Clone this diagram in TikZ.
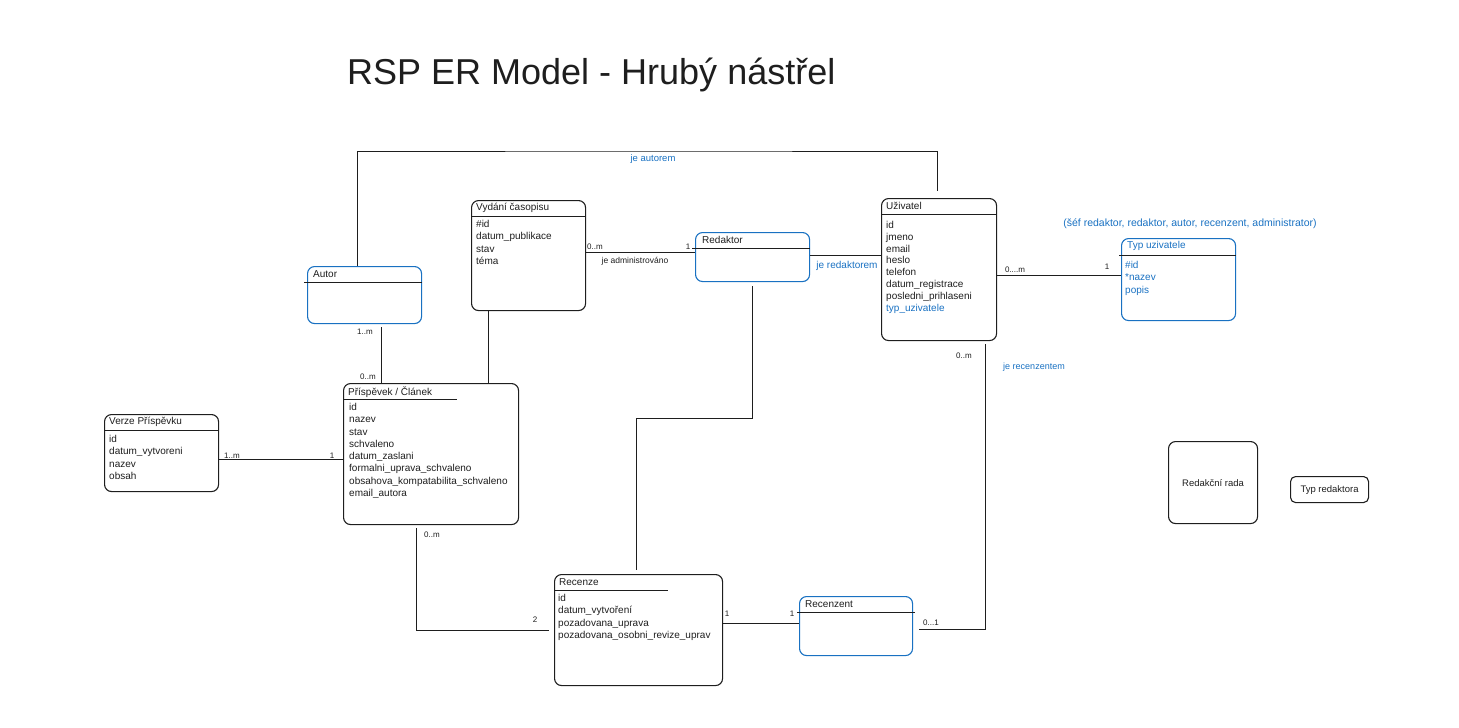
\documentclass[tikz,border=0pt]{standalone}
\usepackage{fontspec}
\setmainfont{Liberation Sans}
\definecolor{ink}{HTML}{1E1E1E}
\definecolor{exblue}{HTML}{1971C2}

\begin{document}
\begin{tikzpicture}[x=1pt, y=-1pt,
    every node/.style={font=\fontsize{10}{12.3}\selectfont, text=ink, inner sep=0pt},
    entity/.style={draw=ink, line width=1.1pt, rounded corners=7pt, anchor=north west},
    bentity/.style={entity, draw=exblue},
    hline/.style={draw=ink, line width=1pt},
    attrs/.style={anchor=north west, align=left},
    etitle/.style={anchor=west},
    conn/.style={draw=ink, line width=0.9pt},
    card/.style={font=\fontsize{8}{9}\selectfont},
    rel/.style={font=\fontsize{9.5}{11}\selectfont, text=exblue}]

    \path[use as bounding box] (0,0) rectangle (1459,728);

    % Title
    \node[font=\fontsize{36}{40}\selectfont, anchor=west] (heading) at (347,75)
          {RSP ER Model - Hrubý nástřel};

    % Autor
    \node[bentity, minimum width=114, minimum height=57] (autor) at (307,266) {};
    \draw[hline] ([xshift=-3pt,yshift=-16pt]autor.north west) -- ([yshift=-16pt]autor.north east);
    \node[etitle] (autor-t) at ([xshift=6pt,yshift=-8pt]autor.north west) {Autor};

    % Vydani casopisu
    \node[entity, minimum width=114, minimum height=110] (vydani) at (471,200) {};
    \draw[hline] ([yshift=-16pt]vydani.north west) -- ([yshift=-16pt]vydani.north east);
    \node[etitle] (vydani-t) at ([xshift=5pt,yshift=-8pt]vydani.north west) {Vydání časopisu};
    \node[attrs] (vydani-a) at (476,220) {\#id\\datum\_publikace\\stav\\téma};

    % Redaktor
    \node[bentity, minimum width=114, minimum height=49] (redaktor) at (695,232) {};
    \draw[hline] ([xshift=-3pt,yshift=-16pt]redaktor.north west) -- ([yshift=-16pt]redaktor.north east);
    \node[etitle] (redaktor-t) at ([xshift=7pt,yshift=-8pt]redaktor.north west) {Redaktor};

    % Uzivatel
    \node[entity, minimum width=115, minimum height=142] (uziv) at (881,198) {};
    \draw[hline] ([yshift=-16pt]uziv.north west) -- ([yshift=-16pt]uziv.north east);
    \node[etitle] (uziv-t) at ([xshift=5pt,yshift=-8pt]uziv.north west) {Uživatel};
    \node[attrs, font=\fontsize{10}{11.8}\selectfont] (uziv-a) at (886,221)
          {id\\jmeno\\email\\heslo\\telefon\\datum\_registrace\\posledni\_prihlaseni\\
           \textcolor{exblue}{typ\_uzivatele}};

    % Typ uzivatele
    \node[bentity, minimum width=114, minimum height=82] (typ) at (1121,238) {};
    \draw[hline] ([xshift=-2pt,yshift=-17pt]typ.north west) -- ([yshift=-17pt]typ.north east);
    \node[etitle, text=exblue] (typ-t) at ([xshift=6pt,yshift=-8pt]typ.north west) {Typ uzivatele};
    \node[attrs, text=exblue] (typ-a) at (1125,261) {\#id\\*nazev\\popis};
    \node[rel, font=\fontsize{10.5}{12}\selectfont] (typ-note) at (1190,224)
          {(šéf redaktor, redaktor, autor, recenzent, administrator)};

    % Prispevek / Clanek
    \node[entity, minimum width=175, minimum height=141] (prisp) at (343,383) {};
    \draw[hline] ([yshift=-16pt]prisp.north west) -- ++(114,0);
    \node[etitle] (prisp-t) at ([xshift=5pt,yshift=-9pt]prisp.north west) {Příspěvek / Článek};
    \node[attrs] (prisp-a) at (349,403)
          {id\\nazev\\stav\\schvaleno\\datum\_zaslani\\formalni\_uprava\_schvaleno\\
           obsahova\_kompatabilita\_schvaleno\\email\_autora};

    % Verze prispevku
    \node[entity, minimum width=114, minimum height=77] (verze) at (104,414) {};
    \draw[hline] ([yshift=-16pt]verze.north west) -- ([yshift=-16pt]verze.north east);
    \node[etitle] (verze-t) at ([xshift=5pt,yshift=-8pt]verze.north west) {Verze Příspěvku};
    \node[attrs] (verze-a) at (109,435) {id\\datum\_vytvoreni\\nazev\\obsah};

    % Recenze
    \node[entity, minimum width=168, minimum height=111] (recenze) at (554,574) {};
    \draw[hline] ([yshift=-16pt]recenze.north west) -- ++(114,0);
    \node[etitle] (recenze-t) at ([xshift=5pt,yshift=-8pt]recenze.north west) {Recenze};
    \node[attrs] (recenze-a) at (558,594)
          {id\\datum\_vytvoření\\pozadovana\_uprava\\pozadovana\_osobni\_revize\_uprav};

    % Recenzent
    \node[bentity, minimum width=113, minimum height=59] (recenzent) at (799,596) {};
    \draw[hline] ([xshift=-2pt,yshift=-16pt]recenzent.north west) -- ([xshift=2pt,yshift=-16pt]recenzent.north east);
    \node[etitle] (recenzent-t) at ([xshift=6pt,yshift=-8pt]recenzent.north west) {Recenzent};

    % Redakcni rada, Typ redaktora
    \node[entity, minimum width=89, minimum height=82, font=\fontsize{9.5}{11}\selectfont] (rada)
          at (1168,441) {Redakční rada};
    \node[entity, rounded corners=5pt, minimum width=78, minimum height=26,
          font=\fontsize{9.5}{11}\selectfont] (typred) at (1290,476) {Typ redaktora};

    % je autorem
    \draw[conn] ([xshift=-7pt]autor.north) |- (650,151) -| ([xshift=-1.5pt,yshift=7pt]uziv.north);
    \node[rel] (autorem-l) at (653,159) {je autorem};

    % Autor -- Prispevek
    \draw[conn] ([xshift=17pt,yshift=-3pt]autor.south) coordinate (a1) -- (a1 |- prisp.north);
    \node[card] (a1-c1) at (365,332) {1..m};
    \node[card] (a1-c2) at (368,377) {0..m};

    % Vydani -- Prispevek
    \draw[conn] ([xshift=-40pt]vydani.south) coordinate (v1) -- (v1 |- prisp.north);

    % je administrovano
    \draw[conn] ([yshift=3pt]vydani.east) coordinate (v2) -- (v2 -| redaktor.west);
    \node[card] (v2-c1) at (595,247) {0..m};
    \node[card] (v2-c2) at (688,247) {1};
    \node[card, font=\fontsize{8.5}{10}\selectfont] (v2-l) at (635,261) {je administrováno};

    % je redaktorem
    \draw[conn] ([yshift=2pt]redaktor.east) coordinate (r1) -- (r1 -| uziv.west);
    \node[rel, font=\fontsize{10}{11}\selectfont] (r1-l) at (847,266) {je redaktorem};

    % Redaktor -- Recenze
    \draw[conn] ([yshift=-4pt]redaktor.south) |- ([xshift=-2pt,yshift=156pt]recenze.north)
          -- ([xshift=-2pt,yshift=4pt]recenze.north);

    % Uzivatel -- Typ uzivatele
    \draw[conn] ([yshift=-6pt]uziv.east) coordinate (u1) -- (u1 -| typ.west);
    \node[card] (u1-c1) at (1015,270) {0....m};
    \node[card] (u1-c2) at (1107,267) {1};

    % je recenzentem
    \draw[conn] ([xshift=46.5pt,yshift=-3pt]uziv.south) |- ([xshift=6pt,yshift=-3.5pt]recenzent.east);
    \node[card] (u2-c1) at (964,356) {0..m};
    \node[rel, font=\fontsize{9}{11}\selectfont] (u2-l) at (1034,367) {je recenzentem};
    \node[card] (u2-c2) at (931,623) {0...1};

    % Verze -- Prispevek
    \draw[conn] ([yshift=-6.5pt]verze.east) coordinate (ve1) -- (ve1 -| prisp.west);
    \node[card] (ve1-c1) at (232,456) {1..m};
    \node[card] (ve1-c2) at (332,456) {1};

    % Prispevek -- Recenze
    \draw[conn] ([xshift=-14.5pt,yshift=-3pt]prisp.south) |- ([xshift=-5pt]recenze.west);
    \node[card] (p1-c1) at (432,535) {0..m};
    \node[card] (p1-c2) at (535,620) {2};

    % Recenze -- Recenzent
    \draw[conn] ([yshift=6.5pt]recenze.east) coordinate (rc1) -- (rc1 -| recenzent.west);
    \node[card] (rc1-c1) at (727,614) {1};
    \node[card] (rc1-c2) at (792,614) {1};
\end{tikzpicture}
\end{document}
